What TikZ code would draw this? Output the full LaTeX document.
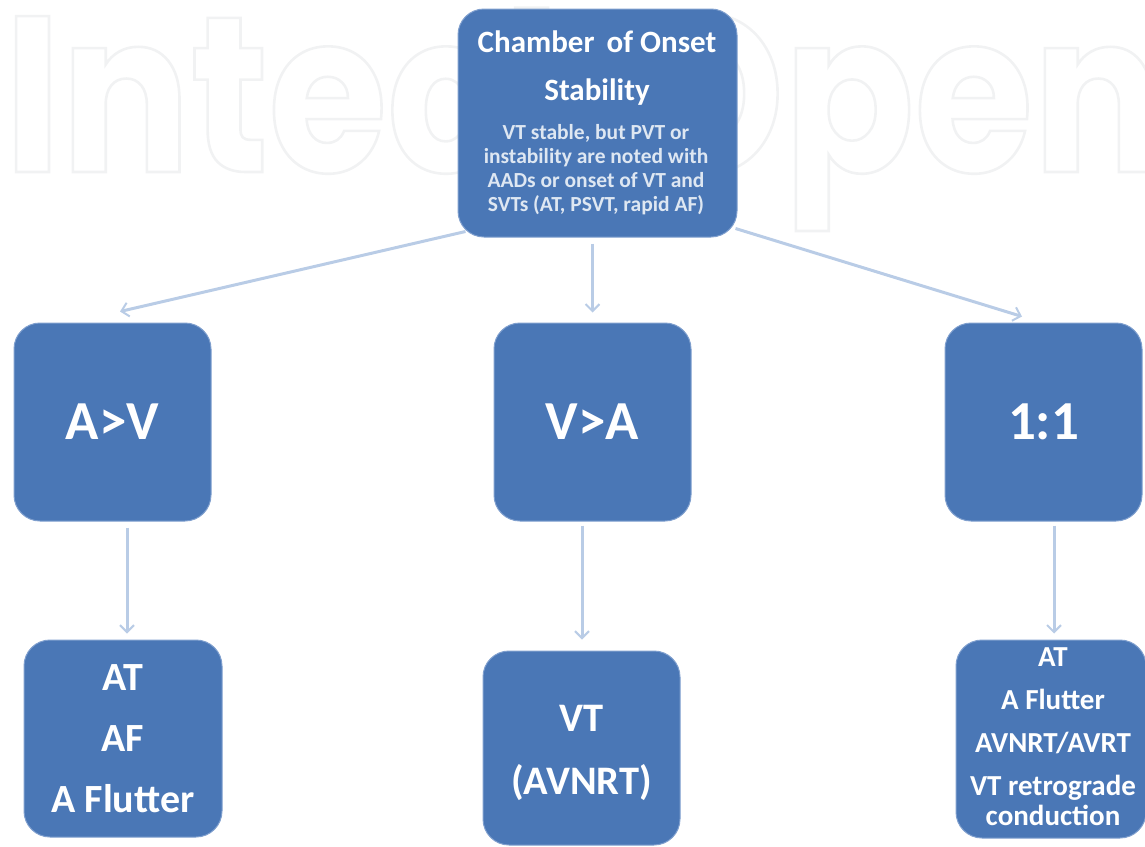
\documentclass[tikz,border=0pt]{standalone}
\usepackage{fontspec}
\setmainfont{Carlito}
\newfontfamily\wmfont[FakeStretch=0.866]{Poppins}
\usetikzlibrary{arrows.meta,calc}
\definecolor{boxfill}{HTML}{4A77B6}
\definecolor{boxedge}{HTML}{7F9FCE}
\definecolor{arrowc}{HTML}{B9CCE6}
\definecolor{wmc}{HTML}{F1F2F3}
\newcommand{\fs}[2]{\fontsize{#1}{#2}\selectfont}
\tikzset{
  box/.style={rounded corners=26pt,fill=boxfill,draw=boxedge,line width=1pt,text=white,align=center,inner sep=0pt},
  flow/.style={draw=arrowc,line width=3pt,-{Straight Barb[length=7pt,width=14pt,line width=2pt]}},
}
\begin{document}
\begin{tikzpicture}[x=1pt,y=-1pt]
\useasboundingbox (0,0) rectangle (1145,846);
\node[anchor=base west,inner sep=0pt,text=wmc] (wm) at (4,172) {\special{pdf:code 1 Tr 2.6 w 0.945 0.949 0.953 RG}\wmfont\bfseries\fontsize{222}{222}\selectfont IntechOpen\special{pdf:code 0 Tr}};
\node[box,minimum width=279pt,minimum height=228pt] (top) at (597.5,123) {};
\node[text=white,align=center,inner sep=0pt,font={\bfseries\fs{31}{48}}] (toptext) at (597,68) {Chamber\, of Onset\\Stability};
\node[text=white!82!boxfill,align=center,inner sep=0pt,font={\bfseries\fs{21.5}{24}}] (topsub) at (596,170) {VT stable, but PVT or\\instability are noted with\\AADs or onset of VT and\\SVTs (AT, PSVT, rapid AF)};
\node[box,minimum width=197pt,minimum height=198pt,font={\bfseries\fs{55}{55}}] (av) at (112.5,422) {A>V};
\node[box,minimum width=197pt,minimum height=198pt,font={\bfseries\fs{55}{55}}] (va) at (592.5,422) {V>A};
\node[box,minimum width=197pt,minimum height=198pt,font={\bfseries\fs{55}{55}}] (oo) at (1043.5,422) {1:1};
\node[box,minimum width=198pt,minimum height=197pt,font={\bfseries\fs{40}{61}}] (r1) at (123,738.5) {AT\\AF\\A Flutter};
\node[box,minimum width=197pt,minimum height=194pt,font={\bfseries\fs{40.5}{63}}] (r2) at (581.5,748) {\rule{0pt}{36pt}VT\\(AVNRT)};
\node[box,minimum width=190pt,minimum height=198pt] (r3) at (1051,739) {};
\node[text=white,align=center,inner sep=0pt,font={\bfseries\fs{29}{43}}] (r3text) at (1053,737) {AT\\A Flutter\\AVNRT/AVRT\\VT retrograde\\[-13pt]conduction};
\coordinate (e1) at ($(av.north)+(7.5,-11)$);
\coordinate (e3) at ($(oo.north)+(-21.5,-6)$);
\draw[flow] ($(top.south west)+(8,-6)$) -- (e1);
\draw[flow] (top.south -| va.north) ++(0,6) -- ($(va.north)+(0,-10)$);
\draw[flow] ($(top.south east)+(-2,-9)$) -- (e3);
\draw[flow] ($(av.south)+(14.5,6)$) -- ($(r1.north)+(4,-6)$);
\draw[flow] ($(va.south)+(-10.5,4)$) -- ($(r2.north)+(0.5,-11)$);
\draw[flow] ($(oo.south)+(10.5,4)$) -- ($(r3.north)+(3,-6)$);
\end{tikzpicture}
\end{document}
